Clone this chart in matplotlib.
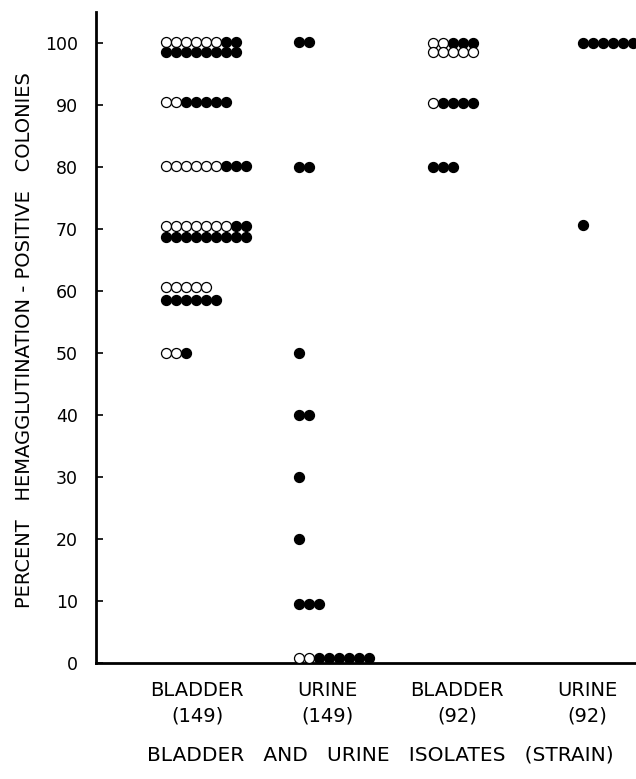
import matplotlib
matplotlib.use("Agg")
import matplotlib.pyplot as plt

groups = ["BLADDER\n(149)", "URINE\n(149)", "BLADDER\n(92)", "URINE\n(92)"]

# one entry per row of dots: value (%), number of open circles, number of filled circles
bladder149_values = [100.2, 98.5, 90.5, 80.2, 70.5, 68.7, 60.6, 58.6, 50.0]
bladder149_open = [6, 0, 2, 6, 7, 0, 5, 0, 2]
bladder149_filled = [2, 8, 5, 3, 2, 9, 0, 6, 1]

urine149_values = [100.2, 80.0, 50.0, 40.0, 30.0, 20.0, 9.5, 0.8]
urine149_open = [0, 0, 0, 0, 0, 0, 0, 2]
urine149_filled = [2, 2, 1, 2, 1, 1, 3, 6]

bladder92_values = [100.0, 98.5, 90.3, 80.0]
bladder92_open = [2, 5, 1, 0]
bladder92_filled = [3, 0, 4, 3]

urine92_values = [100.0, 70.7]
urine92_open = [0, 0]
urine92_filled = [6, 1]

all_rows = [
    (bladder149_values, bladder149_open, bladder149_filled),
    (urine149_values, urine149_open, urine149_filled),
    (bladder92_values, bladder92_open, bladder92_filled),
    (urine92_values, urine92_open, urine92_filled),
]

# where each column of dots starts, relative to its label, and dot spacing
start_offset = [-0.238, -0.215, -0.185, -0.031]
step = 0.077

plt.rcParams["font.family"] = ["DejaVu Sans"]

fig = plt.figure(figsize=(6.36, 7.79), dpi=100)
ax = fig.add_axes([96 / 636, 1 - 663 / 779, 540 / 636, 651 / 779])

for g, (vals, n_open, n_filled) in enumerate(all_rows):
    for v, no, nf in zip(vals, n_open, n_filled):
        x0 = g + start_offset[g]
        xo = [x0 + k * step for k in range(no)]
        xf = [x0 + (no + k) * step for k in range(nf)]
        ax.plot(xo, [v] * no, ls="none", marker="o", ms=7.2, mfc="white",
                mec="black", mew=0.9, clip_on=False, zorder=3)
        ax.plot(xf, [v] * nf, ls="none", marker="o", ms=7.2, mfc="black",
                mec="black", mew=0.9, clip_on=False, zorder=3)

ax.set_xlim(-0.777, 3.377)
ax.set_ylim(0, 105)
ax.set_yticks(range(0, 101, 10))
ax.set_xticks(range(len(groups)))
ax.set_xticklabels(groups, fontsize=14, linespacing=1.45)
ax.tick_params(axis="x", length=0, pad=13)
ax.tick_params(axis="y", direction="in", length=5, width=1.2, labelsize=12.5, pad=13)

for side in ["top", "right"]:
    ax.spines[side].set_visible(False)
ax.spines["left"].set_linewidth(2)
ax.spines["bottom"].set_linewidth(2)

fig.text(25 / 636, 1 - 340 / 779, "PERCENT   HEMAGGLUTINATION - POSITIVE   COLONIES",
         rotation=90, ha="center", va="center", fontsize=14)
fig.text(380 / 636, 1 - 755 / 779, "BLADDER   AND   URINE   ISOLATES   (STRAIN)",
         ha="center", va="center", fontsize=14.5)

fig.savefig("out.png", dpi=100)
